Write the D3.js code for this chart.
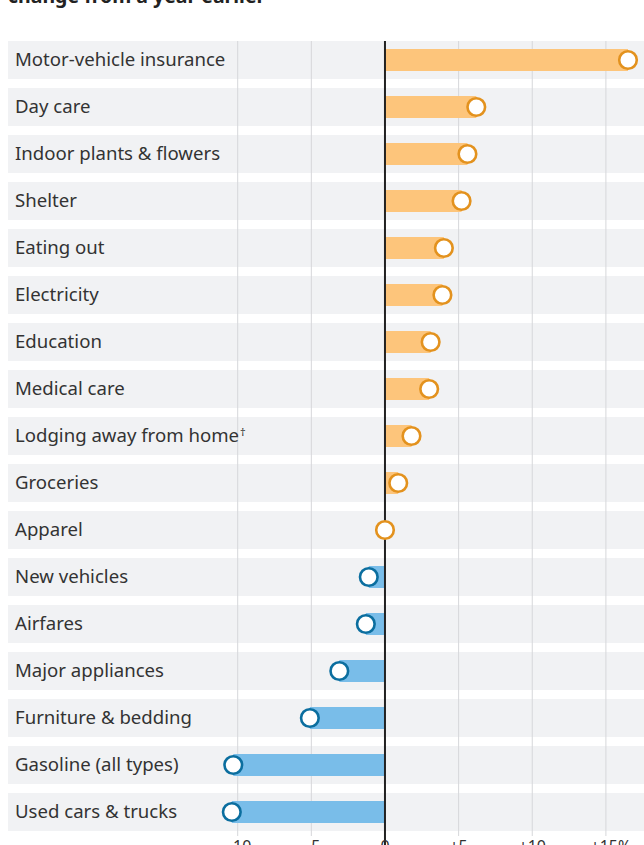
<!DOCTYPE html>
<html>
<head>
<meta charset="utf-8">
<script src="https://cdn.jsdelivr.net/npm/d3@7"></script>
<style>
  html, body { margin: 0; padding: 0; background: #fff; }
  svg { display: block; }
  text { font-family: "Noto Sans", "Open Sans", sans-serif; }
</style>
</head>
<body>
<div id="chart"></div>
<script>
const categories = [
  "Motor-vehicle insurance", "Day care", "Indoor plants & flowers", "Shelter",
  "Eating out", "Electricity", "Education", "Medical care",
  "Lodging away from home\u2020", "Groceries", "Apparel", "New vehicles",
  "Airfares", "Major appliances", "Furniture & bedding",
  "Gasoline (all types)", "Used cars & trucks"
];
const values = [
  16.5, 6.2, 5.6, 5.2,
  4.0, 3.9, 3.1, 3.0,
  1.8, 0.9, 0.0, -1.1,
  -1.3, -3.1, -5.1,
  -10.3, -10.4
];
const tickValues = [-10, -5, 0, 5, 10, 15];
const tickLabels = ["\u221210", "\u22125", "0", "+5", "+10", "+15%"];
const titleText = "change from a year earlier";

const W = 644, H = 845;
const svg = d3.select("#chart").append("svg").attr("width", W).attr("height", H);

const x = d3.scaleLinear().domain([-10, 15]).range([237.7, 605.9]);
const y = d3.scaleBand().domain(categories).range([36.5, 835.5])
  .paddingInner(9 / 47).paddingOuter(4.5 / 47);

// title (clipped at top)
svg.append("text").attr("x", 8).attr("y", 3)
  .attr("font-size", 19.5).attr("font-weight", 700).attr("fill", "#222")
  .text(titleText);

// bands
svg.append("g").selectAll("rect").data(categories).join("rect")
  .attr("x", 8).attr("width", W - 8)
  .attr("y", d => y(d)).attr("height", y.bandwidth())
  .attr("fill", "#f1f2f4");

// gridlines
svg.append("g").selectAll("line").data(tickValues.filter(v => v !== 0)).join("line")
  .attr("x1", d => x(d)).attr("x2", d => x(d))
  .attr("y1", y(categories[0])).attr("y2", 836)
  .attr("stroke", "#d6d7da").attr("stroke-width", 1);

// labels (dagger as small superscript)
const lab = svg.append("g").selectAll("text").data(categories).join("text")
  .attr("x", 15).attr("y", d => y(d) + y.bandwidth() / 2)
  .attr("dy", "0.32em")
  .attr("font-size", 18.6).attr("fill", "#333");
lab.each(function(d) {
  const t = d3.select(this);
  if (d.endsWith("\u2020")) {
    t.append("tspan").text(d.slice(0, -1));
    t.append("tspan").attr("font-size", 11).attr("dy", "-0.55em").attr("dx", 1).text("\u2020");
  } else {
    t.text(d);
  }
});

const data = categories.map((c, i) => ({ c, v: values[i] }));
const barH = 22;

// bars
svg.append("g").selectAll("rect").data(data).join("rect")
  .attr("x", d => Math.min(x(0), x(d.v)))
  .attr("width", d => Math.abs(x(d.v) - x(0)))
  .attr("y", d => y(d.c) + y.bandwidth() / 2 - barH / 2)
  .attr("height", barH)
  .attr("fill", d => d.v >= 0 ? "#fdc57b" : "#79bde9");

// zero line
svg.append("line")
  .attr("x1", x(0)).attr("x2", x(0))
  .attr("y1", y(categories[0])).attr("y2", H)
  .attr("stroke", "#222").attr("stroke-width", 2);

// circles
svg.append("g").selectAll("circle").data(data).join("circle")
  .attr("cx", d => x(d.v))
  .attr("cy", d => y(d.c) + y.bandwidth() / 2)
  .attr("r", 8.8)
  .attr("fill", "#fff")
  .attr("stroke", d => d.v >= 0 ? "#e3921e" : "#0b6e9f")
  .attr("stroke-width", 2.6);

// axis tick labels (clipped at bottom)
svg.append("g").selectAll("text").data(tickValues).join("text")
  .attr("x", d => x(d) + (d === 15 ? 5 : 0))
  .attr("y", 852)
  .attr("text-anchor", "middle")
  .attr("font-size", 16).attr("fill", "#333")
  .text((d, i) => tickLabels[i]);
</script>
</body>
</html>
